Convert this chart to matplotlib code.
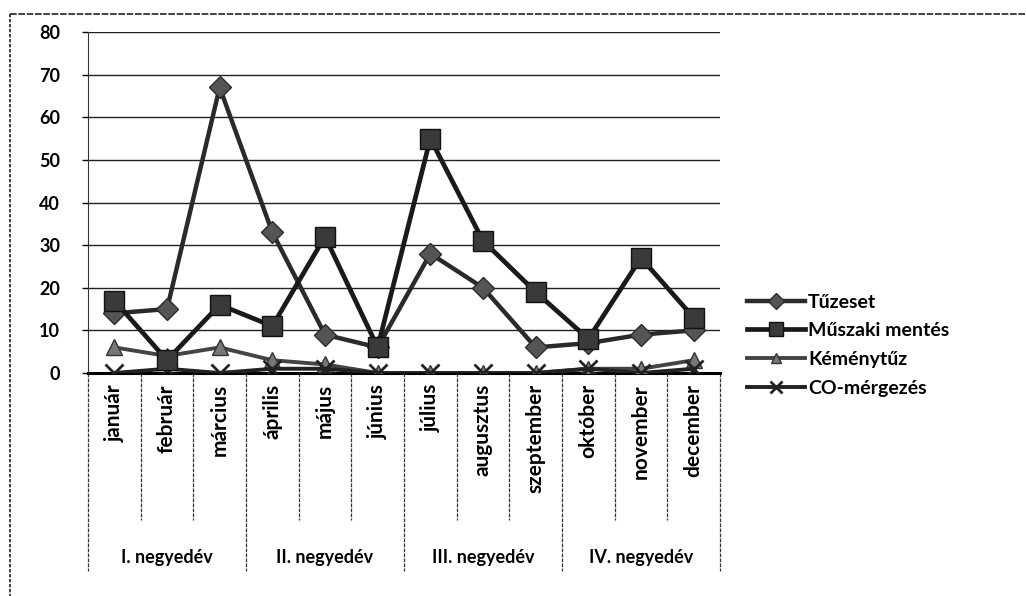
import matplotlib.pyplot as plt
import matplotlib.transforms as mtransforms

plt.rcParams['font.family'] = ['Lato', 'DejaVu Sans']
plt.rcParams['font.weight'] = 'bold'

honapok = ['január', 'február', 'március', 'április', 'május', 'június',
           'július', 'augusztus', 'szeptember', 'október', 'november', 'december']
negyedevek = ['I. negyedév', 'II. negyedév', 'III. negyedév', 'IV. negyedév']

tuzeset = [14, 15, 67, 33, 9, 6, 28, 20, 6, 7, 9, 10]
muszaki = [17, 3, 16, 11, 32, 6, 55, 31, 19, 8, 27, 13]
kemenytuz = [6, 4, 6, 3, 2, 0, 0, 0, 0, 1, 1, 3]
co_mergezes = [0, 1, 0, 1, 1, 0, 0, 0, 0, 1, 0, 1]

nevek = ['Tűzeset', 'Műszaki mentés', 'Kéménytűz', 'CO-mérgezés']

fig = plt.figure(figsize=(10.26, 5.96), dpi=100)
ax = fig.add_axes([88 / 1026, (596 - 373) / 596, 632 / 1026, 341 / 596])

x = list(range(len(honapok)))
szin = '#2a2a2a'
ax.plot(x, tuzeset, color=szin, lw=3.2, marker='D', ms=11, mfc='#555555', mec=szin, label=nevek[0], zorder=4)
ax.plot(x, muszaki, color='#1a1a1a', lw=3.4, marker='s', ms=14, mfc='#3a3a3a', mec='#111111', label=nevek[1], zorder=5)
ax.plot(x, kemenytuz, color='#444444', lw=2.8, marker='^', ms=11, mfc='#777777', mec='#333333', label=nevek[2], zorder=3)
ax.plot(x, co_mergezes, color='#222222', lw=2.8, marker='x', ms=13, mew=2, mec='#222222', label=nevek[3], zorder=3)

ax.set_xlim(-0.5, len(honapok) - 0.5)
ax.set_ylim(0, 80)
ax.set_yticks(range(0, 81, 10))
ax.tick_params(axis='y', labelsize=13, length=4, width=1, pad=16)
ax.set_xticks(x)
ax.set_xticklabels(honapok, rotation=90, fontsize=15, va='top')
ax.tick_params(axis='x', length=0, pad=8)
ax.grid(axis='y', color='#222222', lw=1)
for s in ['top', 'right']:
    ax.spines[s].set_visible(False)
ax.spines['left'].set_linestyle((0, (3, 1)))
ax.spines['left'].set_color('#333333')
ax.spines['bottom'].set_linewidth(2.2)

# elválasztó vonalak a hónapok és negyedévek között
trans = mtransforms.blended_transform_factory(ax.transData, ax.transAxes)
for i in range(len(honapok) + 1):
    hatar = i - 0.5
    also = -0.58 if i % 3 == 0 else -0.43
    ax.plot([hatar, hatar], [0, also], transform=trans, color='#333333', lw=0.9,
            ls=(0, (3, 1)), clip_on=False)
for q, nev in enumerate(negyedevek):
    ax.text(q * 3 + 1, -0.54, nev, transform=trans, ha='center', va='center', fontsize=13)

ax.legend(loc='center left', bbox_to_anchor=(1.015, 0.082), frameon=False, fontsize=14,
          handlelength=3, handletextpad=0.15, labelspacing=0.6, markerscale=0.7)

# külső keret
fig.add_artist(plt.Line2D([10 / 1026, 1], [1 - 14 / 596, 1 - 14 / 596], color='#222222', lw=1.2,
                          ls=(0, (4, 1))))
fig.add_artist(plt.Line2D([10 / 1026, 10 / 1026], [1 - 14 / 596, 0], color='#222222', lw=1.2,
                          ls=(0, (2, 1))))

fig.savefig('out.png', dpi=100)
